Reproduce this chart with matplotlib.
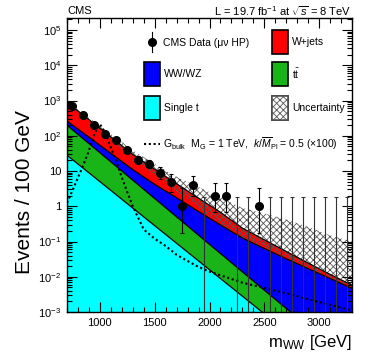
import numpy as np
import matplotlib
matplotlib.use("Agg")
import matplotlib.pyplot as plt
from matplotlib.patches import Rectangle
from matplotlib.lines import Line2D
from matplotlib.ticker import MultipleLocator, LogLocator, FuncFormatter, NullFormatter

plt.rcParams['font.family'] = ['Liberation Sans', 'DejaVu Sans']
plt.rcParams['mathtext.fontset'] = 'custom'
plt.rcParams['mathtext.rm'] = 'Liberation Sans'
plt.rcParams['mathtext.it'] = 'Liberation Sans:italic'
plt.rcParams['mathtext.bf'] = 'Liberation Sans:bold'
plt.rcParams['hatch.linewidth'] = 0.6

# background model, events / 100 GeV at mWW nodes (GeV)
mass = [700, 900, 1100, 1300, 1500, 1700, 1900, 2100, 2300, 2500, 2700, 2900, 3100, 3300]
single_t = [28, 8.9, 2.82, 0.89, 0.282, 0.089, 0.0282, 0.0089, 0.00282, 0.00089, 0.00028, 8.9e-5, 2.8e-5, 8.9e-6]
ttbar = [171, 51.4, 15.4, 4.61, 1.38, 0.412, 0.123, 0.0368, 0.011, 0.00328, 0.00098, 2.9e-4, 8.7e-5, 2.6e-5]
ww_wz = [64, 30.9, 13.4, 5.5, 2.51, 1.24, 0.557, 0.249, 0.112, 0.0589, 0.0311, 0.0166, 0.0088, 0.00464]
w_jets = [628, 197, 61.7, 18.5, 7.03, 2.63, 0.99, 0.381, 0.114, 0.049, 0.0201, 0.0075, 0.0028, 0.00107]

# uncertainty band edges
unc_hi = [935, 325, 114, 39, 15.9, 6.9, 3.5, 1.8, 0.89, 0.63, 0.42, 0.26, 0.15, 0.10]
unc_lo = [849, 257, 78, 22.7, 8.0, 2.7, 0.89, 0.32, 0.13, 0.065, 0.0334, 0.0175, 0.0092, 0.0048]

# bulk graviton signal (x100)
sig_mass = [700, 750, 800, 850, 900, 950, 1000, 1050, 1100, 1150, 1200, 1250, 1300, 1400,
            1500, 1600, 1700, 1800, 1900, 2000, 2100, 2300, 2500, 2700, 2900, 3100, 3300]
sig_vals = [1.25, 2.8, 6.5, 15, 38, 115, 215, 120, 47, 19, 6.6, 2.5, 1.0, 0.22,
            0.12, 0.075, 0.042, 0.028, 0.019, 0.014, 0.011, 0.0068, 0.0048, 0.0034, 0.0023, 0.0016, 0.0011]

# data
bin_centers = [750, 850, 950, 1050, 1150, 1250, 1350, 1450, 1550, 1650, 1750, 1850, 1950,
               2050, 2150, 2250, 2350, 2450, 2550, 2650, 2750, 2850, 2950, 3050, 3150, 3250]
data_counts = [690, 395, 205, 115, 74, 39, 21, 16, 9, 5, 1, 4, 0,
               2, 2, 0, 0, 1, 0, 0, 0, 0, 0, 0, 0, 0]
err_lo = [26.3, 19.9, 14.3, 10.7, 8.6, 6.2, 4.5, 3.95, 2.94, 2.39, 0.827, 2.08, 0,
          1.29, 1.29, 0, 0, 0.827, 0, 0, 0, 0, 0, 0, 0, 0]
err_hi = [27.3, 20.9, 15.3, 11.7, 9.6, 7.3, 5.6, 5.1, 4.11, 3.38, 2.3, 3.16, 1.84,
          2.64, 2.64, 1.84, 1.84, 2.3, 1.84, 1.84, 1.84, 1.84, 1.84, 1.84, 1.84, 1.84]

C_ST = '#00FFFF'
C_TT = '#18B418'
C_WW = '#0000FF'
C_WJ = '#FF0000'

W, H = 374, 359
fig = plt.figure(figsize=(W / 100, H / 100), dpi=100)
ax = fig.add_axes([67 / W, 47 / H, 285 / W, 294 / H])

# stacked backgrounds
st = np.array(single_t)
tt = st + np.array(ttbar)
ww = tt + np.array(ww_wz)
wj = ww + np.array(w_jets)
floor = 1e-8
ax.fill_between(mass, floor, st, color=C_ST, lw=0)
ax.fill_between(mass, st, tt, color=C_TT, lw=0)
ax.fill_between(mass, tt, ww, color=C_WW, lw=0)
ax.fill_between(mass, ww, wj, color=C_WJ, lw=0)
for top in (st, tt, ww, wj):
    ax.plot(mass, top, color='black', lw=0.9)

# uncertainty
ax.fill_between(mass, unc_lo, unc_hi, facecolor='none', edgecolor='#555555',
                hatch='xxxxx', lw=0)

# signal
ax.plot(sig_mass, sig_vals, color='black', lw=1.5, linestyle=(0, (1, 1.3)))

# data
counts = np.array(data_counts, dtype=float)
lo = np.array(err_lo)
hi = np.array(err_hi)
nz = counts > 0
bc = np.array(bin_centers)
ax.errorbar(bc[nz], counts[nz], yerr=[lo[nz], hi[nz]], fmt='o', color='black',
            ms=5.5, elinewidth=0.8, capsize=1.5, capthick=0.8)
ax.errorbar(bc[~nz], hi[~nz], yerr=[hi[~nz] - 1e-6, np.zeros((~nz).sum())], fmt='none',
            ecolor='#333333', elinewidth=0.8, capsize=1.5, capthick=0.8)

ax.set_yscale('log')
ax.set_xlim(700, 3300)
ax.set_ylim(1e-3, 2.2e5)

ax.xaxis.set_major_locator(MultipleLocator(500))
ax.xaxis.set_minor_locator(MultipleLocator(100))
ax.yaxis.set_major_locator(LogLocator(base=10, numticks=20))
ax.yaxis.set_minor_locator(LogLocator(base=10, subs=np.arange(2, 10), numticks=20))
ax.yaxis.set_minor_formatter(NullFormatter())


def yfmt(v, pos):
    e = int(round(np.log10(v)))
    if e == 0:
        return '1'
    if e == 1:
        return '10'
    return r'$10^{%d}$' % e


ax.yaxis.set_major_formatter(FuncFormatter(yfmt))
ax.tick_params(which='both', direction='in', top=True, right=True, labelsize=8, width=0.8)
ax.tick_params(which='major', length=7, pad=4)
ax.tick_params(which='minor', length=3.5)
for s in ax.spines.values():
    s.set_linewidth(1.0)

# axis titles
fig.text(24 / W, 1 - 192 / H, 'Events / 100 GeV', rotation=90, ha='center', va='center', fontsize=15)
fig.text(352 / W, 1 - 343 / H, r'm$_{\rm WW}$ [GeV]', ha='right', va='center', fontsize=12)

# header
fig.text(67 / W, 1 - 11 / H, 'CMS', ha='left', va='center', fontsize=8)
fig.text(351 / W, 1 - 11 / H, r'L = 19.7 fb$^{-1}$ at $\sqrt{s}$ = 8 TeV', ha='right', va='center', fontsize=8)

# legend (manual, ROOT-like layout)
def fx(px):
    return (px - 67) / 285


def fy(py):
    return (312 - py) / 294


lfs = 7.5
box_w = fx(160) - fx(144)
box_h = fy(96) - fy(120)
entries = [
    (144, 62, C_WW, None, 'WW/WZ'),
    (144, 96, C_ST, None, 'Single t'),
    (272, 30, C_WJ, None, 'W+jets'),
    (272, 62, C_TT, None, r'$\mathrm{t\bar{t}}$'),
    (272, 96, 'white', 'xxxxx', 'Uncertainty'),
]
for bx, by, col, hatch, label in entries:
    r = Rectangle((fx(bx), fy(by) - box_h), box_w, box_h, transform=ax.transAxes,
                  facecolor=col, edgecolor='black', lw=1.2, hatch=hatch)
    if hatch:
        r.set_edgecolor('#555555')
        ax.add_patch(Rectangle((fx(bx), fy(by) - box_h), box_w, box_h, transform=ax.transAxes,
                               facecolor='none', edgecolor='black', lw=1.2))
    ax.add_patch(r)
    ax.text(fx(bx + 20), fy(by) - box_h / 2, label, transform=ax.transAxes,
            ha='left', va='center', fontsize=lfs)

# data legend entry
ax.add_line(Line2D([fx(152)], [fy(42)], marker='o', color='black', ms=5.5, transform=ax.transAxes))
ax.add_line(Line2D([fx(152), fx(152)], [fy(32), fy(52)], color='black', lw=0.8, transform=ax.transAxes))
ax.text(fx(163), fy(43), 'CMS Data (μν HP)', transform=ax.transAxes,
        ha='left', va='center', fontsize=lfs)

# signal legend entry
ax.add_line(Line2D([fx(144), fx(160)], [fy(144), fy(144)], color='black', lw=1.5,
                   linestyle=(0, (1, 1.3)), transform=ax.transAxes))
ax.text(fx(163), fy(144), r'G$_{\rm bulk}$  M$_{\rm G}$ = 1 TeV,  $k/\overline{M}_{\rm Pl}$ = 0.5 (×100)',
        transform=ax.transAxes, ha='left', va='center', fontsize=lfs)

fig.savefig('out.png', dpi=100)
